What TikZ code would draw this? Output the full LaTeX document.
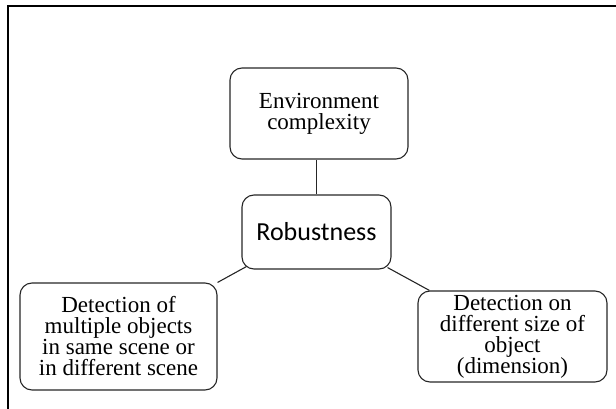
\documentclass[tikz,border=0pt]{standalone}
\usepackage{fontspec}
\setmainfont{Liberation Serif}
\newfontfamily\robfont{Carlito}
\begin{document}
\begin{tikzpicture}[x=1pt,y=-1pt,
  box/.style={draw=black!85, line width=1.1pt, rounded corners=12pt,
    inner sep=0pt, align=center,
    font=\fontsize{23}{21}\selectfont},
  link/.style={draw=black!85, line width=1.1pt}]
  \useasboundingbox (0,0) rectangle (616,409);
  % page frame (left and top edges)
  \draw[line width=2pt] (8,412) -- (8,6) -- (618,6);

  \node[box, minimum width=178pt, minimum height=91pt] (env) at (319,113.5)
    {Environment\\complexity};
  \node[box, minimum width=149pt, minimum height=74pt,
        font=\robfont\fontsize{26}{28}\selectfont] (rob) at (316.5,232)
    {Robustness};
  \node[box, minimum width=197pt, minimum height=107pt] (left) at (118.5,336.5)
    {Detection of\\multiple objects\\in same scene or\\in different scene};
  \node[box, minimum width=189pt, minimum height=91pt] (right) at (512.5,336.5)
    {Detection on\\different size of\\object\\(dimension)};

  \draw[link] (rob.north) -- (rob.north |- env.south);
  \draw[link] (left.north east) -- ([xshift=5pt,yshift=3pt]rob.south west);
  \draw[link] ([xshift=-4pt,yshift=2pt]rob.south east) -- ([xshift=12pt]right.north west);
\end{tikzpicture}
\end{document}
